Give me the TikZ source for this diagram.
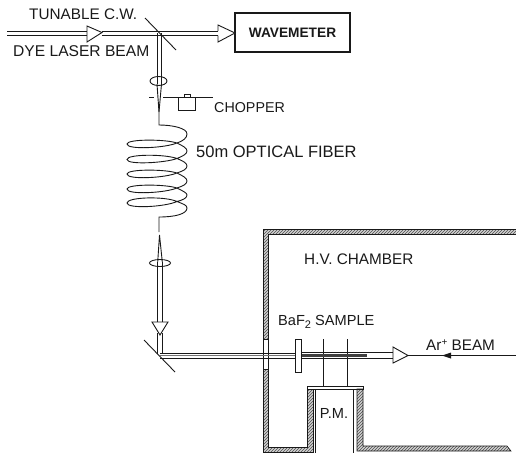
\documentclass[tikz,border=0pt]{standalone}
\usepackage{fontspec}
\setmainfont{Liberation Sans}
\usetikzlibrary{patterns}
\tikzset{
  ln/.style={line width=0.9pt,black!90},
  thin ln/.style={line width=0.7pt,black!90},
  wall/.style={draw=black!90,line width=0.6pt,preaction={fill=gray!35},pattern=north east lines,pattern color=black!70},
  lbl/.style={inner sep=0pt,anchor=west,text=black!90,font=\fontsize{#1}{#1}\selectfont},
}
\begin{document}
\begin{tikzpicture}[x=1pt,y=-1pt]
\useasboundingbox (0,0) rectangle (516,453);
% wavemeter
\node[draw,ln,line width=1.1pt,minimum width=115pt,minimum height=39pt,inner sep=0pt,font=\bfseries\fontsize{13.7}{14}\selectfont] (wm) at (292.5,32.5) {WAVEMETER};
% input beam
\draw[ln] (7,31) -- (87,31) (7,35.5) -- (87,35.5);
\draw[ln] (87,26) -- (102,32.5) -- (87,42) -- cycle;
\draw[ln] (102,31) -- (218,31) (102,35.5) -- (218,35.5);
\draw[ln,fill=white] (218,31) -- (218,25) -- (235,33) -- (218,42) -- (218,35.5);
% first mirror
\draw[ln] (145,18) -- (176,50);
% down beam
\draw[ln] (157,33) -- (157,84) (161.5,33) -- (161.5,84);
\draw[ln] (158.5,81) ellipse (8.5pt and 4.5pt);
\draw[ln] (157,84) -- (159,112) -- (161.5,84);
% chopper
\draw[ln,dash pattern=on 5pt off 3pt] (149,97) -- (157,97);
\draw[ln] (163,97.5) -- (213,97.5);
\draw[ln] (178,97.5) -- (178,110) -- (195,110) -- (195,97.5);
\draw[ln] (184,97.5) -- (184,94.5) -- (190,94.5) -- (190,97.5);
\node[lbl=14.3] (chop) at (214,107.5) {CHOPPER};
% fibre
\draw[ln] (159,106) -- (159,125)
 .. controls (172,125) and (187,128) .. (187,134) .. controls (187,138) and (183,141) .. (177,143)
 .. controls (165,148) and (127,150) .. (127,144) .. controls (127,139) and (165,139) .. (177,143)
 .. controls (183,146) and (187,148) .. (187,151) .. controls (187,154) and (183,156) .. (177,158.5)
 .. controls (165,163) and (127,165) .. (127,159.5) .. controls (127,154) and (165,154) .. (177,158.5)
 .. controls (183,161) and (187,163) .. (187,166) .. controls (187,169) and (183,171) .. (177,173)
 .. controls (165,178) and (127,180) .. (127,174) .. controls (127,169) and (165,169) .. (177,173)
 .. controls (183,176) and (187,178) .. (187,181) .. controls (187,184) and (183,186) .. (177,188)
 .. controls (165,193) and (127,195) .. (127,189) .. controls (127,184) and (165,184) .. (177,188)
 .. controls (183,191) and (187,193) .. (187,195) .. controls (187,198) and (183,200) .. (177,201.5)
 .. controls (165,207) and (127,209) .. (127,203) .. controls (127,197) and (165,196) .. (177,201.5)
 .. controls (183,204) and (187,205) .. (187,208) .. controls (187,214) and (175,217) .. (159,217) -- (159,232);
\node[lbl=16.5] (fib) at (196,152) {50m OPTICAL FIBER};
% lower beam
\draw[ln] (159.5,235) -- (157.7,262) (159.5,235) -- (162.3,262);
\draw[ln] (160,263) ellipse (10.5pt and 3.5pt);
\draw[ln] (157.7,262) -- (157.7,322) (162.3,262) -- (162.3,322);
\draw[ln,fill=white] (152,322) -- (168,322) -- (160,335) -- cycle;
\draw[ln] (157.7,333) -- (157.7,354) (162.3,333) -- (162.3,354);
\draw[ln] (144,340) -- (175,372);
% chamber
\path[wall] (516,229) -- (263,229) -- (263,339) -- (268,339) -- (268,234) -- (516,234) -- cycle;
\path[wall] (263,369) -- (263,452) -- (313,452) -- (313,389) -- (307,389) -- (307,447) -- (268,447) -- (268,369) -- cycle;
\path[wall] (357,389) -- (363,389) -- (363,446) -- (507,446) -- (511,451) -- (357,451) -- cycle;
\draw[thin ln] (263,339) -- (263,369) (268,339) -- (268,369);
% PM tube
\draw[ln] (307,386) -- (363,386) -- (363,389) -- (307,389) -- cycle;
\draw[ln] (315,389) -- (315,453) (353,389) -- (353,453);
\node[lbl=14.6,anchor=center] (pm) at (334,413) {P.M.};
\draw[thin ln] (323,339) -- (323,386) (347,339) -- (347,386);
% horizontal beam
\draw[ln] (160,353) -- (295,353) (160,358) -- (295,358);
\draw[line width=0.7pt,black!55] (160,355.5) -- (295,355.5);
\draw[ln] (301,352.5) -- (393,352.5) (301,358.5) -- (393,358.5);
\draw[line width=2.2pt,black!75] (301,355.5) -- (367,355.5);
\draw[ln,fill=white] (393,351.5) -- (393,347) -- (408,355.5) -- (393,363) -- (393,359) -- cycle;
% sample
\node[draw,ln,fill=white,minimum width=6pt,minimum height=33pt,inner sep=0pt] (sample) at (298,355.5) {};
% Ar beam
\draw[ln] (408,355.5) -- (516,355.5);
\fill[black!90] (442,355.5) -- (451,352.5) -- (451,358.5) -- cycle;
% labels
\node[lbl=15.3] (t1) at (29,14.5) {TUNABLE C.W.};
\node[lbl=15.6] (t2) at (13,51) {DYE LASER BEAM};
\node[lbl=15.3] (hv) at (304,259) {H.V. CHAMBER};
\node[lbl=14.6] (baf) at (278,322) {BaF\raisebox{-3pt}{\fontsize{11}{11}\selectfont 2} SAMPLE};
\node[lbl=15.3] (ar) at (426,345) {Ar\raisebox{5pt}{\fontsize{10}{10}\selectfont +} BEAM};
\end{tikzpicture}
\end{document}
